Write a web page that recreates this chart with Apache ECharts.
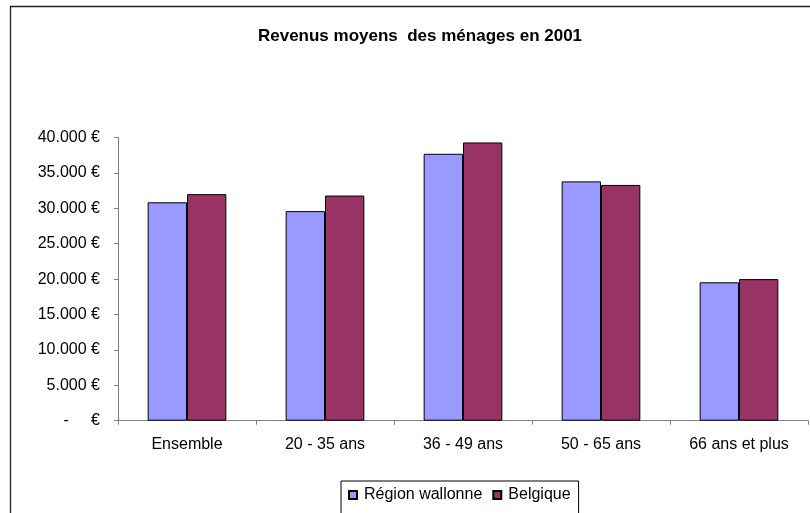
<!DOCTYPE html>
<html>
<head>
<meta charset="utf-8">
<script src="https://cdn.jsdelivr.net/npm/echarts@6/dist/echarts.min.js"></script>
<style>
  html, body { margin: 0; padding: 0; background: #fff; }
  #chart { width: 810px; height: 513px; }
</style>
</head>
<body>
<div id="chart"></div>
<script>
// categories and values
const categories = ["Ensemble", "20 - 35 ans", "36 - 49 ans", "50 - 65 ans", "66 ans et plus"];
const wallonne = [30850, 29600, 37700, 33800, 19550];
const belgique = [32000, 31800, 39300, 33300, 20000];
const yTicks = [0, 5000, 10000, 15000, 20000, 25000, 30000, 35000, 40000];

const chart = echarts.init(document.getElementById("chart"));

const fmtEuro = (v) => {
  if (v === 0) return "-     €";
  return String(v).replace(/\B(?=(\d{3})+(?!\d))/g, ".") + " €";
};

chart.setOption({
  animation: false,
  textStyle: { fontFamily: "Liberation Sans, Arial, sans-serif" },
  title: {
    text: "Revenus moyens  des ménages en 2001",
    left: 415,
    textAlign: "center",
    top: 23,
    textStyle: { fontSize: 17, fontWeight: "bold", color: "#000" }
  },
  graphic: [{
    type: "rect",
    shape: { x: 10.5, y: 6.5, width: 900, height: 600 },
    style: { fill: "none", stroke: "#222", lineWidth: 1.3 },
    silent: true
  }],
  legend: {
    left: 341,
    top: 481,
    padding: [6, 8, 12, 7],
    itemGap: 10,
    itemWidth: 8,
    itemHeight: 8,
    borderColor: "#000",
    borderWidth: 1,
    icon: "rect",
    textStyle: { fontSize: 16, color: "#000", padding: [0, 0, 0, 2] },
    data: ["Région wallonne", "Belgique"]
  },
  grid: { left: 118, right: 2, top: 137.5, bottom: 92.3 },
  xAxis: {
    type: "category",
    data: categories,
    axisLine: { lineStyle: { color: "#808080", width: 1 } },
    axisTick: { show: true, length: 4, inside: false, lineStyle: { color: "#808080" } },
    axisLabel: { fontSize: 16, color: "#000", margin: 16 },
    splitLine: { show: false }
  },
  yAxis: {
    type: "value",
    min: yTicks[0],
    max: yTicks[yTicks.length - 1],
    interval: 5000,
    axisLine: { show: true, lineStyle: { color: "#808080", width: 1 } },
    axisTick: { show: true, length: 4, lineStyle: { color: "#808080" } },
    axisLabel: { fontSize: 16, color: "#000", margin: 18, formatter: fmtEuro },
    splitLine: { show: false }
  },
  series: [
    {
      name: "Région wallonne",
      type: "bar",
      data: wallonne,
      barGap: "0%",
      barCategoryGap: "43%",
      itemStyle: { color: "#9999FF", borderColor: "#000", borderWidth: 1 }
    },
    {
      name: "Belgique",
      type: "bar",
      data: belgique,
      barGap: "0%",
      barCategoryGap: "43%",
      itemStyle: { color: "#993366", borderColor: "#000", borderWidth: 1 }
    }
  ]
});
</script>
</body>
</html>
